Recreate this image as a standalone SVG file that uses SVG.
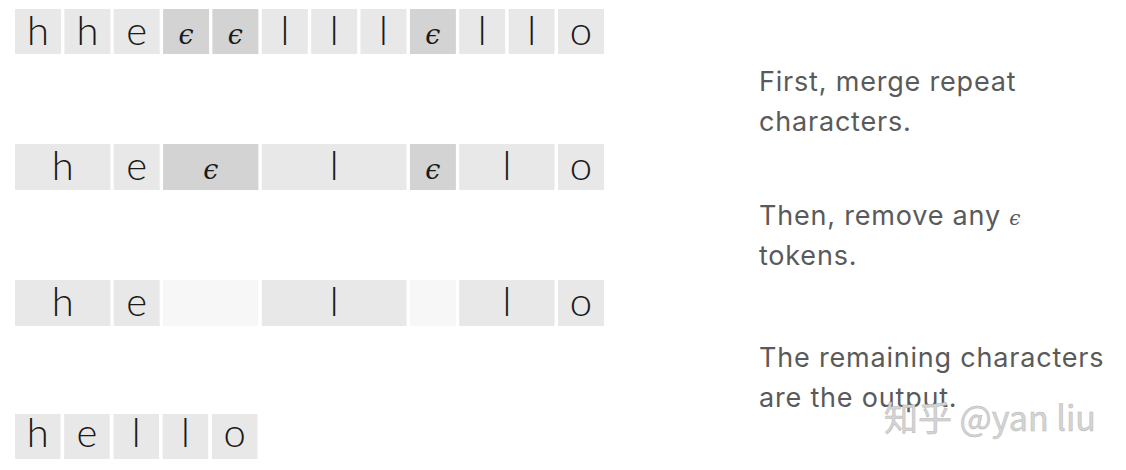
<svg xmlns="http://www.w3.org/2000/svg" width="1126" height="470" viewBox="0 0 1126 470">
<style>
.c{fill:#e8e8e8}
.d{fill:#d3d3d3}
.b{fill:#f7f7f7}
.t{font-family:Lato,"Open Sans","Liberation Sans",sans-serif;font-weight:300;font-size:40px;fill:#1a1a1a;text-anchor:middle}
.e{font-family:"DejaVu Serif",serif;font-style:italic;font-size:27px;fill:#1a1a1a;text-anchor:middle}
.n{font-family:Inter,"Liberation Sans",sans-serif;font-size:27px;letter-spacing:0.8px;fill:#5a5a5a}
.ne{font-family:"DejaVu Serif",serif;font-style:italic;font-size:20px;fill:#5a5a5a}
.w{font-family:"Noto Sans CJK SC","Liberation Sans",sans-serif;font-size:34px;fill:#d4d4d4;stroke:#b8b8b8;stroke-width:0.5}
</style>
<rect width="1126" height="470" fill="#ffffff"/>
<g id="row1">
<g id="r1c0"><rect class="c" x="15" y="9" width="46" height="45"/><text class="t" x="38" y="45">h</text></g>
<g id="r1c1"><rect class="c" x="64.4" y="9" width="46" height="45"/><text class="t" x="87.4" y="45">h</text></g>
<g id="r1c2"><rect class="c" x="113.7" y="9" width="46" height="45"/><text class="t" x="136.7" y="45">e</text></g>
<g id="r1c3"><rect class="d" x="163.1" y="9" width="46" height="45"/><text class="e" x="186.1" y="44">ϵ</text></g>
<g id="r1c4"><rect class="d" x="212.4" y="9" width="46" height="45"/><text class="e" x="235.4" y="44">ϵ</text></g>
<g id="r1c5"><rect class="c" x="261.8" y="9" width="46" height="45"/><text class="t" x="284.8" y="45">l</text></g>
<g id="r1c6"><rect class="c" x="311.2" y="9" width="46" height="45"/><text class="t" x="334.2" y="45">l</text></g>
<g id="r1c7"><rect class="c" x="360.5" y="9" width="46" height="45"/><text class="t" x="383.5" y="45">l</text></g>
<g id="r1c8"><rect class="d" x="409.9" y="9" width="46" height="45"/><text class="e" x="432.9" y="44">ϵ</text></g>
<g id="r1c9"><rect class="c" x="459.2" y="9" width="46" height="45"/><text class="t" x="482.2" y="45">l</text></g>
<g id="r1c10"><rect class="c" x="508.6" y="9" width="46" height="45"/><text class="t" x="531.6" y="45">l</text></g>
<g id="r1c11"><rect class="c" x="558" y="9" width="46" height="45"/><text class="t" x="581" y="45">o</text></g>
</g>
<g id="row2">
<g id="r2c0"><rect class="c" x="15" y="144" width="95.4" height="46"/><text class="t" x="62.7" y="180">h</text></g>
<g id="r2c1"><rect class="c" x="113.7" y="144" width="46" height="46"/><text class="t" x="136.7" y="180">e</text></g>
<g id="r2c2"><rect class="d" x="163.1" y="144" width="95.3" height="46"/><text class="e" x="210.8" y="179">ϵ</text></g>
<g id="r2c3"><rect class="c" x="261.8" y="144" width="144.7" height="46"/><text class="t" x="334.2" y="180">l</text></g>
<g id="r2c4"><rect class="d" x="409.9" y="144" width="46" height="46"/><text class="e" x="432.9" y="179">ϵ</text></g>
<g id="r2c5"><rect class="c" x="459.2" y="144" width="95.4" height="46"/><text class="t" x="506.9" y="180">l</text></g>
<g id="r2c6"><rect class="c" x="558" y="144" width="46" height="46"/><text class="t" x="581" y="180">o</text></g>
</g>
<g id="row3">
<g id="r3c0"><rect class="c" x="15" y="280" width="95.4" height="46"/><text class="t" x="62.7" y="316">h</text></g>
<g id="r3c1"><rect class="c" x="113.7" y="280" width="46" height="46"/><text class="t" x="136.7" y="316">e</text></g>
<g id="r3c2"><rect class="b" x="163.1" y="280" width="95.3" height="46"/></g>
<g id="r3c3"><rect class="c" x="261.8" y="280" width="144.7" height="46"/><text class="t" x="334.2" y="316">l</text></g>
<g id="r3c4"><rect class="b" x="409.9" y="280" width="46" height="46"/></g>
<g id="r3c5"><rect class="c" x="459.2" y="280" width="95.4" height="46"/><text class="t" x="506.9" y="316">l</text></g>
<g id="r3c6"><rect class="c" x="558" y="280" width="46" height="46"/><text class="t" x="581" y="316">o</text></g>
</g>
<g id="row4">
<g id="r4c0"><rect class="c" x="15" y="414" width="45.5" height="45"/><text class="t" x="37.7" y="447">h</text></g>
<g id="r4c1"><rect class="c" x="64.2" y="414" width="45.5" height="45"/><text class="t" x="87" y="447">e</text></g>
<g id="r4c2"><rect class="c" x="113.5" y="414" width="45.5" height="45"/><text class="t" x="136.2" y="447">l</text></g>
<g id="r4c3"><rect class="c" x="162.7" y="414" width="45.5" height="45"/><text class="t" x="185.5" y="447">l</text></g>
<g id="r4c4"><rect class="c" x="212" y="414" width="45.5" height="45"/><text class="t" x="234.7" y="447">o</text></g>
</g>
<g id="notes">
<text class="n" x="759" y="91">First, merge repeat</text>
<text class="n" x="759" y="131">characters.</text>
<text class="n" x="759" y="225">Then, remove any <tspan class="ne">ϵ</tspan></text>
<text class="n" x="759" y="265">tokens.</text>
<text class="n" x="759" y="367">The remaining characters</text>
<text class="n" x="759" y="407">are the output.</text>
</g>
<text class="w" x="884" y="431">知乎 @yan liu</text>
</svg>
